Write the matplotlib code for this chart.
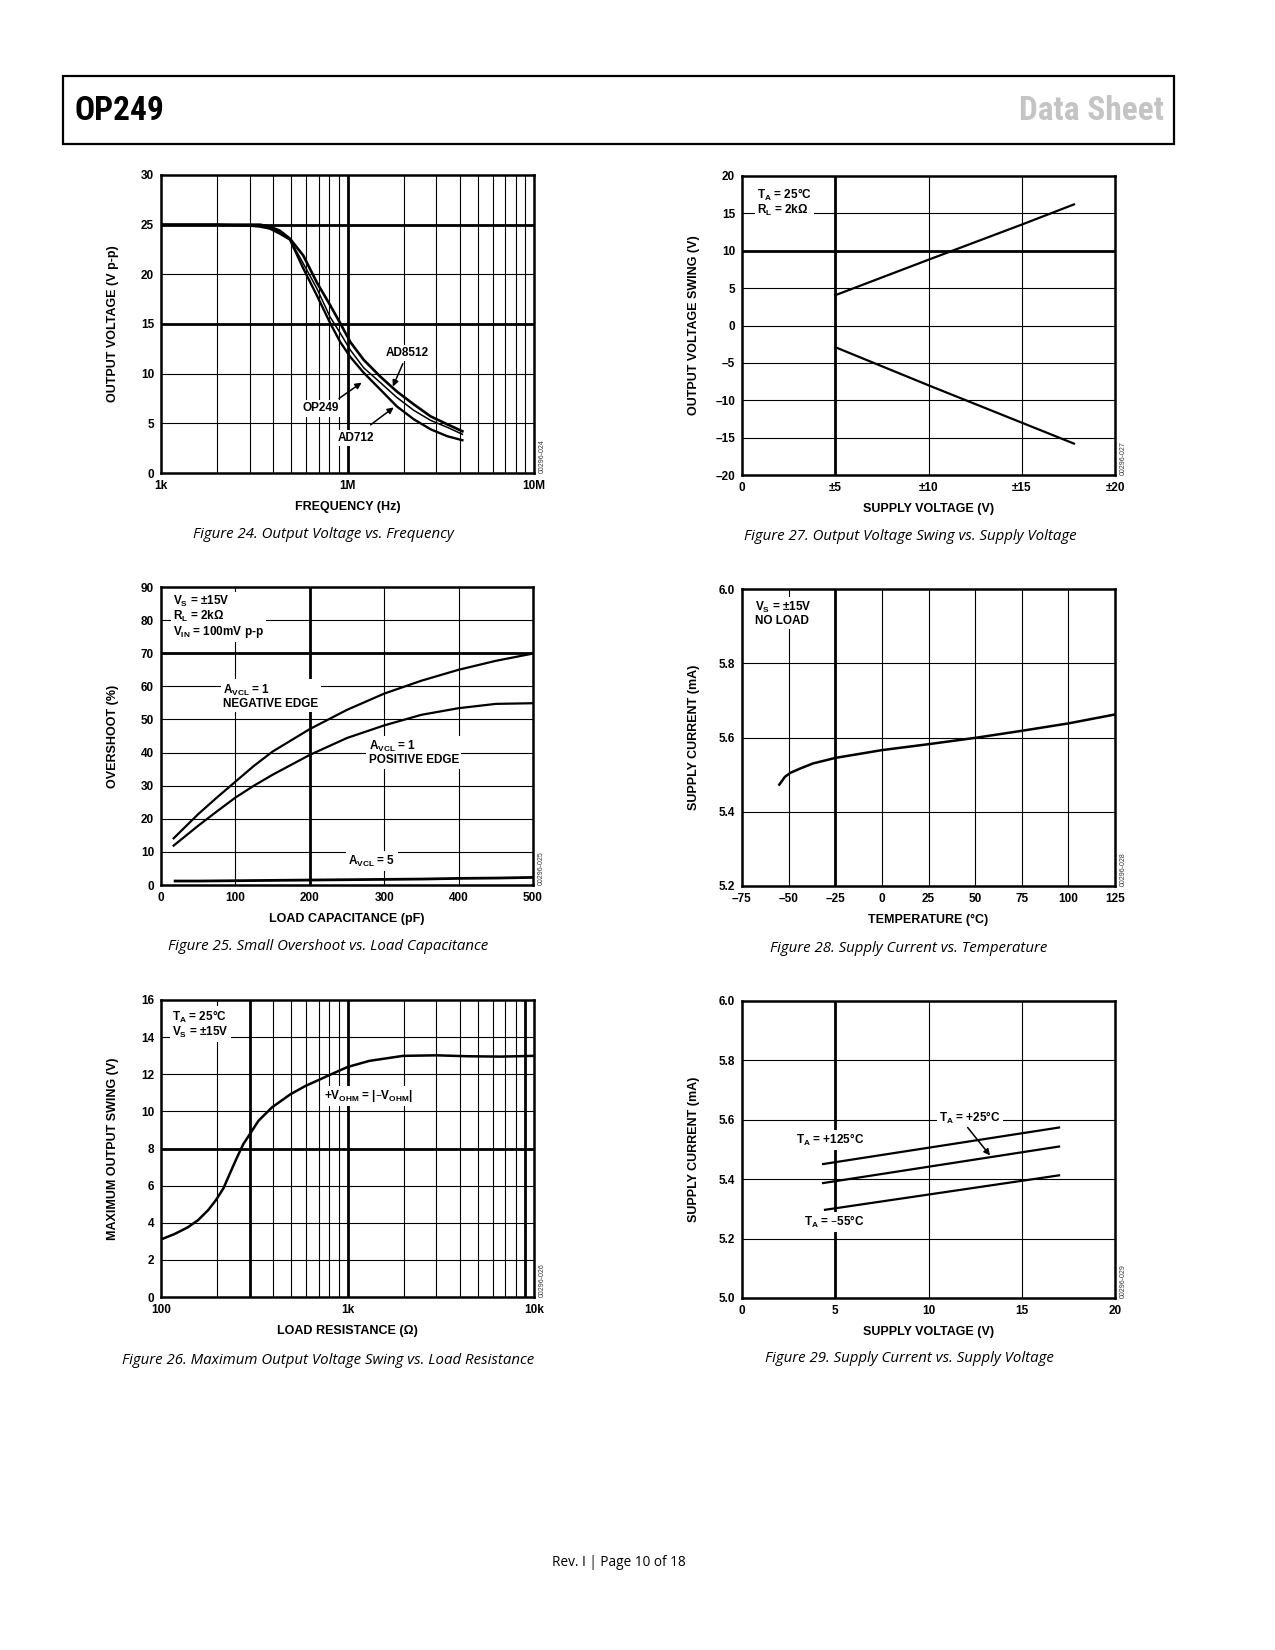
import matplotlib
matplotlib.use('Agg')
import matplotlib.pyplot as plt
from matplotlib.patches import Rectangle
from matplotlib.ticker import NullLocator

plt.rcParams['font.family'] = ['Liberation Sans', 'DejaVu Sans']
plt.rcParams['font.weight'] = 'bold'
plt.rcParams['mathtext.default'] = 'regular'

W, H = 1275, 1650
FS = 8.5     # tick labels and notes
FS_LAB = 9   # axis titles

# ---- Figure 24: output voltage vs frequency
f24_freq = [100e3, 200e3, 300e3, 340e3, 383e3, 433e3, 491e3, 579e3, 684e3,
            807e3, 913e3, 1.034e6, 1.22e6, 1.50e6, 1.84e6, 2.27e6, 2.79e6,
            3.43e6, 4.13e6]
f24_ad8512 = [25.0, 25.0, 25.0, 25.0, 24.8, 24.4, 23.6, 21.9, 19.2, 16.9,
              15.1, 13.2, 11.4, 9.7, 8.2, 6.9, 5.7, 4.9, 4.2]
f24_op249 = [25.0, 25.0, 24.95, 24.9, 24.7, 24.2, 23.5, 21.1, 18.6, 15.7,
             14.1, 12.4, 10.6, 9.1, 7.6, 6.3, 5.3, 4.6, 3.9]
f24_ad712 = [25.0, 25.0, 24.9, 24.8, 24.6, 24.1, 23.5, 20.6, 17.9, 15.1,
             13.2, 11.7, 10.1, 8.4, 6.7, 5.4, 4.4, 3.7, 3.3]
f24_xticks = [1e5, 1e6, 1e7]
f24_xlabels = ['1k', '1M', '10M']
f24_yticks = [0, 5, 10, 15, 20, 25, 30]

# ---- Figure 27: output voltage swing vs supply voltage
f27_supply = [5, 10, 15, 17.8]
f27_pos = [4.05, 8.8, 13.5, 16.2]
f27_neg = [-2.9, -8.0, -13.0, -15.8]
f27_xticks = [0, 5, 10, 15, 20]
f27_xlabels = ['0', '±5', '±10', '±15', '±20']
f27_yticks = [-20, -15, -10, -5, 0, 5, 10, 15, 20]
f27_ylabels = ['–20', '–15', '–10', '–5', '0', '5', '10', '15', '20']

# ---- Figure 25: small overshoot vs load capacitance
f25_cap = [17, 50, 75, 100, 125, 150, 200, 250, 300, 350, 400, 450, 500]
f25_neg_edge = [14.1, 21.4, 26.4, 31.2, 36.0, 40.3, 47.1, 52.9, 57.8, 61.7,
                65.0, 67.7, 69.9]
f25_pos_edge = [11.9, 17.9, 22.2, 26.4, 30.0, 33.3, 39.3, 44.4, 48.2, 51.4,
                53.4, 54.7, 54.9]
f25_avcl5 = [1.2, 1.2, 1.25, 1.3, 1.35, 1.4, 1.5, 1.6, 1.7, 1.8, 2.0, 2.1, 2.3]
f25_xticks = [0, 100, 200, 300, 400, 500]
f25_yticks = [0, 10, 20, 30, 40, 50, 60, 70, 80, 90]

# ---- Figure 28: supply current vs temperature
f28_temp = [-55, -52, -49, -44, -37, -25, 0, 25, 50, 75, 100, 125]
f28_current = [5.473, 5.494, 5.505, 5.516, 5.530, 5.545, 5.566, 5.582,
               5.599, 5.618, 5.638, 5.662]
f28_xticks = [-75, -50, -25, 0, 25, 50, 75, 100, 125]
f28_xlabels = ['–75', '–50', '–25', '0', '25', '50', '75', '100', '125']
f28_yticks = [5.2, 5.4, 5.6, 5.8, 6.0]

# ---- Figure 26: max output swing vs load resistance
f26_rload = [100, 118, 139, 158, 179, 197, 216, 234, 254, 276, 297, 333,
             393, 494, 595, 697, 797, 1000, 1309, 1983, 3000, 4400, 6600,
             10000]
f26_swing = [3.10, 3.39, 3.75, 4.14, 4.68, 5.22, 5.85, 6.65, 7.46, 8.23,
             8.72, 9.49, 10.21, 10.92, 11.37, 11.68, 11.95, 12.39, 12.72,
             12.99, 13.02, 12.97, 12.95, 12.99]
f26_xticks = [100, 1000, 10000]
f26_xlabels = ['100', '1k', '10k']
f26_yticks = [0, 2, 4, 6, 8, 10, 12, 14, 16]

# ---- Figure 29: supply current vs supply voltage
f29_supply_hi = [4.35, 17.0]
f29_supply_lo = [4.45, 17.0]
f29_i125 = [5.451, 5.574]
f29_i25 = [5.387, 5.510]
f29_im55 = [5.297, 5.413]
f29_xticks = [0, 5, 10, 15, 20]
f29_yticks = [5.0, 5.2, 5.4, 5.6, 5.8, 6.0]


def place(fig, x0, y0, x1, y1):
    return fig.add_axes([x0 / W, 1 - y1 / H, (x1 - x0) / W, (y1 - y0) / H])


def frame(ax, xlabel, ylabel, code, thin_x=(), thick_x=(), thin_y=(),
          thick_y=()):
    for v in thin_x:
        ax.axvline(v, color='black', lw=0.8, zorder=1)
    for v in thick_x:
        ax.axvline(v, color='black', lw=2.0, zorder=1)
    for v in thin_y:
        ax.axhline(v, color='black', lw=0.8, zorder=1)
    for v in thick_y:
        ax.axhline(v, color='black', lw=2.0, zorder=1)
    for s in ax.spines.values():
        s.set_linewidth(1.8)
    ax.xaxis.set_minor_locator(NullLocator())
    ax.tick_params(length=0, labelsize=FS)
    ax.tick_params(axis='x', pad=5)
    ax.tick_params(axis='y', pad=5)
    ax.set_xlabel(xlabel, fontsize=FS_LAB, fontweight='bold', va='center')
    ax.xaxis.set_label_coords(0.5, -0.114)
    ax.set_ylabel(ylabel, fontsize=FS_LAB, fontweight='bold', va='center')
    ax.yaxis.set_label_coords(-0.129, 0.5)
    ax.text(1.014, 0.0, code, transform=ax.transAxes, rotation=90,
            fontsize=5, fontweight='normal', va='bottom', ha='left',
            color='#333333')


def note(ax, x, y, s, ha='left'):
    ax.text(x, y, s, fontsize=FS, fontweight='bold', ha=ha, va='center',
            zorder=4, linespacing=1.0,
            bbox=dict(fc='white', ec='none', pad=1.5))


def arrow(ax, tail, tip):
    ax.annotate('', xy=tip, xytext=tail, zorder=5,
                arrowprops=dict(arrowstyle='-|>', color='black', lw=1.1,
                                mutation_scale=9, shrinkA=0, shrinkB=0))


fig = plt.figure(figsize=(W / 100, H / 100), dpi=100, facecolor='white')

# header
fig.add_artist(Rectangle((63 / W, 1 - 144 / H), (1174 - 63) / W, 68 / H,
                         fill=False, lw=1.6, ec='black',
                         transform=fig.transFigure))
hdr_font = ['Roboto Condensed', 'Liberation Sans Narrow',
            'DejaVu Sans Condensed', 'Noto Sans Condensed', 'DejaVu Sans']
fig.text(75 / W, 1 - 111 / H, 'OP249', fontsize=24, fontweight='bold',
         family=hdr_font, fontstretch='condensed', va='center', ha='left',
         color='black')
fig.text(1164 / W, 1 - 111 / H, 'Data Sheet', fontsize=24, fontweight='bold',
         family=hdr_font, fontstretch='condensed', va='center', ha='right',
         color='#c4c4c4')

cap_font = ['Open Sans', 'DejaVu Sans']


def caption(x, y, s):
    fig.text(x / W, 1 - y / H, s, fontsize=10.8, style='italic',
             fontweight='normal', family=cap_font, ha='center', va='center')


# ---- Figure 24
ax = place(fig, 161, 175, 534, 473)
ax.set_xscale('log')
ax.set_xlim(1e5, 1e7)
ax.set_ylim(0, 30)
minors = [m * d for d in (1e5, 1e6) for m in range(2, 10)]
frame(ax, 'FREQUENCY (Hz)', 'OUTPUT VOLTAGE (V p-p)', '00296-024',
      thin_x=minors, thick_x=[1e6], thin_y=[5, 10, 20], thick_y=[15, 25])
ax.set_xticks(f24_xticks)
ax.set_xticklabels(f24_xlabels)
ax.set_yticks(f24_yticks)
ax.plot(f24_freq, f24_ad8512, color='black', lw=1.9, zorder=3)
ax.plot(f24_freq, f24_op249, color='black', lw=1.1, zorder=3)
ax.plot(f24_freq, f24_ad712, color='black', lw=1.7, zorder=3)
note(ax, 2.10e6, 12.05, 'AD8512', ha='center')
arrow(ax, (1.98e6, 11.0), (1.75e6, 8.7))
note(ax, 7.18e5, 6.5, 'OP249', ha='center')
arrow(ax, (9.0e5, 7.5), (1.19e6, 9.1))
note(ax, 1.11e6, 3.5, 'AD712', ha='center')
arrow(ax, (1.33e6, 4.85), (1.77e6, 6.6))
caption(323, 534, 'Figure 24. Output Voltage vs. Frequency')

# ---- Figure 27
ax = place(fig, 742, 176, 1115, 475)
ax.set_xlim(0, 20)
ax.set_ylim(-20, 20)
frame(ax, 'SUPPLY VOLTAGE (V)', 'OUTPUT VOLTAGE SWING (V)', '00296-027',
      thin_x=[10, 15], thick_x=[5], thin_y=[-15, -10, -5, 0, 5, 15],
      thick_y=[10])
ax.set_xticks(f27_xticks)
ax.set_xticklabels(f27_xlabels)
ax.set_yticks(f27_yticks)
ax.set_yticklabels(f27_ylabels)
ax.plot(f27_supply, f27_pos, color='black', lw=1.6, zorder=3)
ax.plot(f27_supply, f27_neg, color='black', lw=1.6, zorder=3)
note(ax, 0.8, 16.5, 'T$_A$ = 25°C\nR$_L$ = 2kΩ')
caption(910, 536, 'Figure 27. Output Voltage Swing vs. Supply Voltage')

# ---- Figure 25
ax = place(fig, 161, 587, 533, 885)
ax.set_xlim(0, 500)
ax.set_ylim(0, 90)
frame(ax, 'LOAD CAPACITANCE (pF)', 'OVERSHOOT (%)', '00296-025',
      thin_x=[100, 300, 400], thick_x=[200],
      thin_y=[10, 20, 30, 40, 50, 60, 80], thick_y=[70])
ax.set_xticks(f25_xticks)
ax.set_yticks(f25_yticks)
ax.plot(f25_cap, f25_neg_edge, color='black', lw=1.6, zorder=3)
ax.plot(f25_cap, f25_pos_edge, color='black', lw=1.6, zorder=3)
ax.plot([c + 2 for c in f25_cap], f25_avcl5, color='black', lw=2.0, zorder=3)
note(ax, 16, 81.0, 'V$_S$ = ±15V\nR$_L$ = 2kΩ\nV$_{IN}$ = 100mV p-p')
note(ax, 84, 57.0, 'A$_{VCL}$ = 1\nNEGATIVE EDGE')
note(ax, 279, 39.9, 'A$_{VCL}$ = 1\nPOSITIVE EDGE')
note(ax, 252, 7.2, 'A$_{VCL}$ = 5')
caption(328, 947, 'Figure 25. Small Overshoot vs. Load Capacitance')

# ---- Figure 28
ax = place(fig, 742, 589, 1115, 886)
ax.set_xlim(-75, 125)
ax.set_ylim(5.2, 6.0)
frame(ax, 'TEMPERATURE (°C)', 'SUPPLY CURRENT (mA)', '00296-028',
      thin_x=[-50, 0, 25, 50, 75, 100], thick_x=[-25],
      thin_y=[5.4, 5.6, 5.8])
ax.set_xticks(f28_xticks)
ax.set_xticklabels(f28_xlabels)
ax.set_yticks(f28_yticks)
ax.set_yticklabels(['%.1f' % v for v in f28_yticks])
ax.plot(f28_temp, f28_current, color='black', lw=1.8, zorder=3)
note(ax, -68, 5.934, 'V$_S$ = ±15V\nNO LOAD')
caption(909, 948, 'Figure 28. Supply Current vs. Temperature')

# ---- Figure 26
ax = place(fig, 161, 1000, 534, 1297)
ax.set_xscale('log')
ax.set_xlim(100, 10000)
ax.set_ylim(0, 16)
minors = [m * d for d in (100, 1000) for m in range(2, 10)
          if m * d not in (300, 9000)]
frame(ax, 'LOAD RESISTANCE (Ω)', 'MAXIMUM OUTPUT SWING (V)', '00296-026',
      thin_x=minors, thick_x=[300, 1000, 9000],
      thin_y=[2, 4, 6, 10, 12, 14], thick_y=[8])
ax.set_xticks(f26_xticks)
ax.set_xticklabels(f26_xlabels)
ax.set_yticks(f26_yticks)
ax.plot(f26_rload, f26_swing, color='black', lw=1.8, zorder=3)
note(ax, 115, 14.7, 'T$_A$ = 25°C\nV$_S$ = ±15V')
note(ax, 745, 10.83, '+V$_{OHM}$ = |–V$_{OHM}$|')
caption(328, 1360, 'Figure 26. Maximum Output Voltage Swing vs. Load Resistance')

# ---- Figure 29
ax = place(fig, 742, 1001, 1115, 1298)
ax.set_xlim(0, 20)
ax.set_ylim(5.0, 6.0)
frame(ax, 'SUPPLY VOLTAGE (V)', 'SUPPLY CURRENT (mA)', '00296-029',
      thin_x=[10, 15], thick_x=[5], thin_y=[5.2, 5.4, 5.6, 5.8])
ax.set_xticks(f29_xticks)
ax.set_yticks(f29_yticks)
ax.set_yticklabels(['%.1f' % v for v in f29_yticks])
ax.plot(f29_supply_hi, f29_i125, color='black', lw=1.6, zorder=3)
ax.plot(f29_supply_hi, f29_i25, color='black', lw=1.6, zorder=3)
ax.plot(f29_supply_lo, f29_im55, color='black', lw=1.6, zorder=3)
note(ax, 2.9, 5.533, 'T$_A$ = +125°C')
note(ax, 10.55, 5.605, 'T$_A$ = +25°C')
arrow(ax, (12.1, 5.574), (13.3, 5.48))
note(ax, 3.3, 5.256, 'T$_A$ = –55°C')
caption(909, 1359, 'Figure 29. Supply Current vs. Supply Voltage')

# footer
fig.text(619 / W, 1 - 1563 / H, 'Rev. I | Page 10 of 18', fontsize=9.8,
         fontweight='normal', family=cap_font, ha='center', va='center')

fig.savefig('out.png', dpi=100, facecolor='white')
